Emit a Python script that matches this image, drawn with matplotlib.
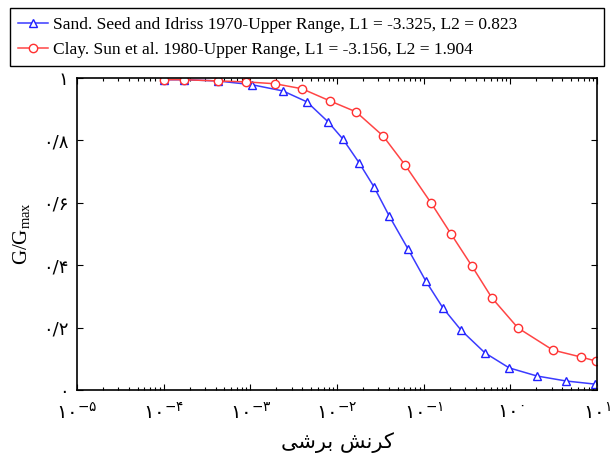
"""G/Gmax vs shear strain, two upper-range curves (sand / clay)."""
import matplotlib
matplotlib.use("Agg")
import matplotlib.pyplot as plt  # noqa: E402
from matplotlib.ticker import LogLocator, NullFormatter  # noqa: E402

plt.rcParams["mathtext.fontset"] = "custom"
plt.rcParams["mathtext.rm"] = "DejaVu Sans"
plt.rcParams["mathtext.it"] = "DejaVu Sans"

SERIF = ["Liberation Serif", "DejaVu Sans"]

# data
sand_strain = [1.0e-4, 1.72e-4, 4.2e-4, 1.04e-3, 2.38e-3, 4.5e-3, 7.9e-3, 0.0117,
               0.018, 0.0267, 0.040, 0.066, 0.106, 0.167, 0.27, 0.51, 0.97,
               2.03, 4.4, 9.5]
sand_g = [0.994, 0.994, 0.990, 0.978, 0.958, 0.923, 0.859, 0.804, 0.728, 0.651,
          0.558, 0.452, 0.349, 0.263, 0.192, 0.119, 0.071, 0.045, 0.029, 0.019]
clay_strain = [1.0e-4, 1.72e-4, 4.24e-4, 8.9e-4, 1.93e-3, 3.95e-3, 8.3e-3, 0.0166,
               0.034, 0.061, 0.122, 0.207, 0.361, 0.614, 1.225, 3.1, 6.5, 9.7]
clay_g = [0.994, 0.994, 0.990, 0.987, 0.981, 0.965, 0.926, 0.891, 0.814, 0.721,
          0.599, 0.500, 0.397, 0.295, 0.199, 0.128, 0.106, 0.093]
sand_label = "Sand. Seed and Idriss 1970-Upper Range, L1 = -3.325, L2 = 0.823"
clay_label = "Clay. Sun et al. 1980-Upper Range, L1 = -3.156, L2 = 1.904"
x_exponents = [-5, -4, -3, -2, -1, 0, 1]
y_ticks = [0, 0.2, 0.4, 0.6, 0.8, 1.0]
y_ticklabels = ["0", "0.2", "0.4", "0.6", "0.8", "1"]
# "کرنش برشی" in presentation forms, visual order (no shaping engine here)
x_title = "\uFBFD\uFEB7\uFEAE\uFE91 \uFEB6\uFEE7\uFEAE\uFB90"

FA = str.maketrans("0123456789.-", "۰۱۲۳۴۵۶۷۸۹/\u2212")


def fa(s):
    return s.translate(FA)


fig = plt.figure(figsize=(6.11, 4.66), dpi=100)
ax = fig.add_axes([0.126, 0.163, 0.851, 0.670])

ax.plot(sand_strain, sand_g, color="#3b3bff", lw=1.1, marker="^", ms=6,
        mfc="white", mec="#2020ff", mew=1.0, label=sand_label)
ax.plot(clay_strain, clay_g, color="#ff4545", lw=1.1, marker="o", ms=6,
        mfc="white", mec="#ff3030", mew=1.0, label=clay_label)

ax.set_xscale("log")
ax.set_xlim(1e-5, 1e1)
ax.set_ylim(0, 1)
ax.set_xticks([10.0 ** e for e in x_exponents])
ax.set_xticklabels([r"$\mathrm{%s}^{\mathrm{%s}}$" % (fa("10"), fa(str(e))) for e in x_exponents],
                   fontsize=14)
ax.xaxis.set_minor_locator(LogLocator(base=10, subs=range(2, 10), numticks=20))
ax.xaxis.set_minor_formatter(NullFormatter())
ax.set_yticks(y_ticks)
ax.set_yticklabels([fa(t) for t in y_ticklabels], fontsize=13, family="DejaVu Sans")
ax.tick_params(which="both", direction="in", top=True, right=True, width=0.8)
ax.tick_params(which="major", length=4, pad=6)
ax.tick_params(axis="x", which="major", pad=9)
ax.tick_params(which="minor", length=2)
for s in ax.spines.values():
    s.set_linewidth(1.2)

ax.set_ylabel(r"$\mathregular{G/G_{max}}$", family=SERIF, fontsize=15, labelpad=8)
ax.set_xlabel(x_title, family="DejaVu Sans", fontsize=15, labelpad=6)

leg = fig.legend(loc="upper left", bbox_to_anchor=(0.016, 0.983, 0.972, 0.0),
                 mode="expand", prop={"family": SERIF, "size": 12.5},
                 fancybox=False, edgecolor="black", framealpha=1,
                 handlelength=1.7, borderpad=0.5, labelspacing=0.5,
                 handletextpad=0.3, borderaxespad=0)
leg.get_frame().set_linewidth(1.0)

fig.savefig("out.png", dpi=100)
